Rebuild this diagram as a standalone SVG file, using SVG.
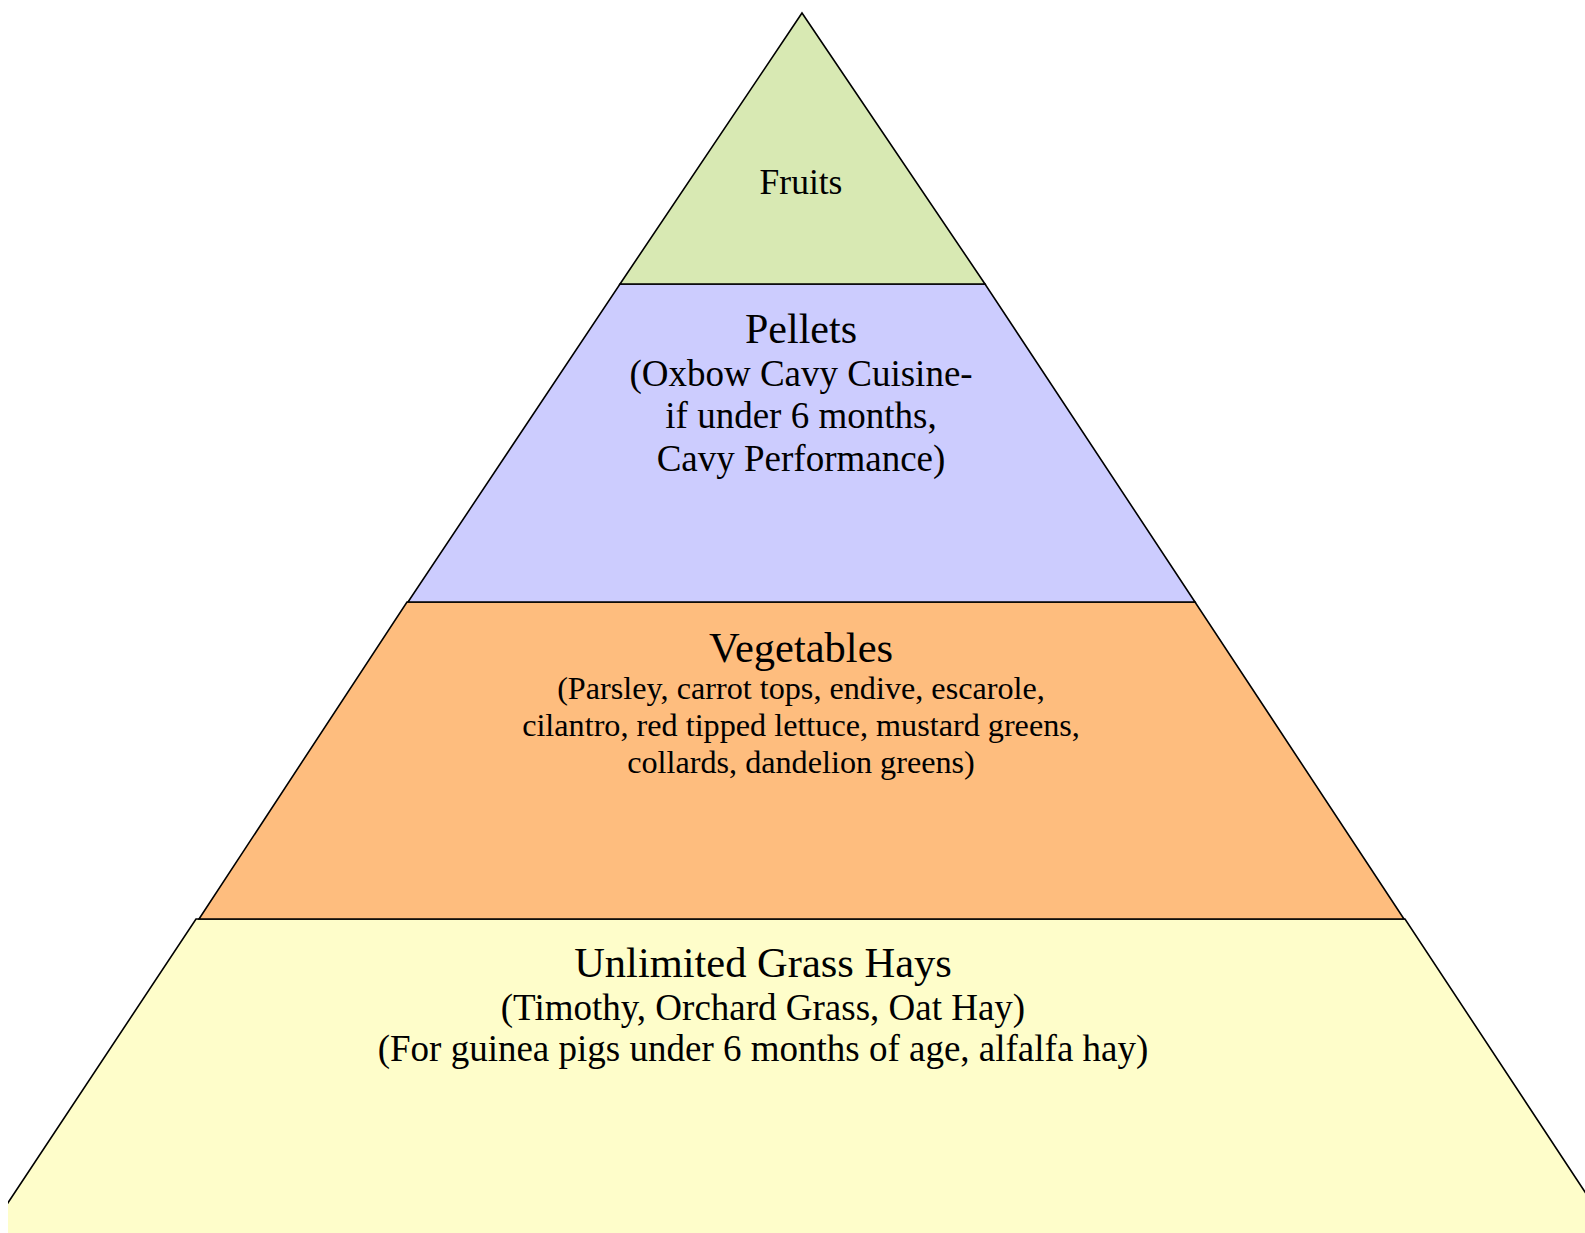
<svg xmlns="http://www.w3.org/2000/svg" width="1585" height="1233" viewBox="0 0 1585 1233">
  <style>
    .tier { stroke: #000; stroke-width: 1.6; stroke-linejoin: miter; }
    .t { font-family: "Liberation Serif", "Times New Roman", serif; fill: #000; text-anchor: middle; }
  </style>
  <defs>
    <clipPath id="page"><rect x="8" y="0" width="1577" height="1233"/></clipPath>
  </defs>
  <rect width="1585" height="1233" fill="#fff"/>
  <g clip-path="url(#page)">
    <g id="hay">
      <polygon class="tier" fill="#fefdca" points="196,919 1405,919 1614,1236 -14,1236"/>
      <text class="t" x="763" y="977" font-size="42.5">Unlimited Grass Hays</text>
      <text class="t" x="763" y="1020" font-size="37">(Timothy, Orchard Grass, Oat Hay)</text>
      <text class="t" x="763" y="1061" font-size="37">(For guinea pigs under 6 months of age, alfalfa hay)</text>
    </g>
    <g id="vegetables">
      <polygon class="tier" fill="#febd7e" points="407,602 1195,602 1404,919 199,919"/>
      <text class="t" x="801" y="662" font-size="42.5">Vegetables</text>
      <text class="t" x="801" y="699" font-size="32.2">(Parsley, carrot tops, endive, escarole,</text>
      <text class="t" x="801" y="736" font-size="32.2">cilantro, red tipped lettuce, mustard greens,</text>
      <text class="t" x="801" y="773" font-size="32.2">collards, dandelion greens)</text>
    </g>
    <g id="pellets">
      <polygon class="tier" fill="#ccccfe" points="620,284 985,284 1195,602 408,602"/>
      <text class="t" x="801" y="343" font-size="42">Pellets</text>
      <text class="t" x="801" y="386" font-size="37">(Oxbow Cavy Cuisine-</text>
      <text class="t" x="801" y="428" font-size="37">if under 6 months,</text>
      <text class="t" x="801" y="471" font-size="37">Cavy Performance)</text>
    </g>
    <g id="fruits">
      <polygon class="tier" fill="#d8e9b3" points="802,13 985,284 620,284"/>
      <text class="t" x="801" y="194" font-size="35.5">Fruits</text>
    </g>
  </g>
  <g id="connectors"/>
</svg>
